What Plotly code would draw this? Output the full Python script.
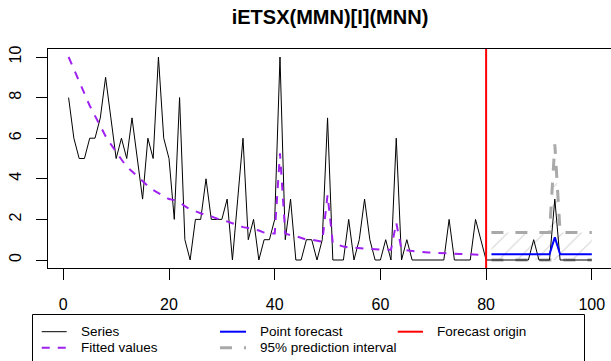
import plotly.graph_objects as go

# ---------------- data ----------------
title_text = "iETSX(MMN)[I](MNN)"

t_in = list(range(1, 81))
actuals = [8, 6, 5, 5, 6, 6, 7, 9, 7, 5,
           6, 5, 7, 5, 3, 6, 5, 10, 6, 5,
           2, 8, 1, 0, 2, 2, 4, 2, 2, 2,
           3, 0, 3, 6, 1, 2, 0, 1, 1, 2,
           10, 1, 3, 0, 0, 1, 1, 0, 1, 7,
           0, 0, 0, 2, 0, 1, 3, 1, 0, 0,
           1, 0, 6, 0, 1, 0, 0, 0, 0, 0,
           0, 0, 2, 0, 0, 0, 0, 2, 1, 0]

fitted = [10.0, 9.4, 8.8, 8.2, 7.6, 7.1, 6.6, 6.1, 5.7, 5.3,
          4.95, 4.6, 4.35, 4.1, 3.85, 3.65, 3.45, 3.28, 3.15, 3.0,
          2.95, 2.85, 2.65, 2.5, 2.4, 2.3, 2.2, 2.15, 2.05, 1.95,
          1.9, 1.8, 1.7, 1.62, 1.58, 1.52, 1.45, 1.35, 1.3, 1.3,
          5.25, 1.3, 1.22, 1.18, 1.1, 1.0, 1.0, 0.95, 0.9, 3.2,
          0.82, 0.75, 0.66, 0.62, 0.6, 0.57, 0.55, 0.53, 0.51, 0.49,
          0.5, 0.5, 1.84, 0.5, 0.47, 0.43, 0.41, 0.39, 0.37, 0.36,
          0.34, 0.33, 0.32, 0.31, 0.3, 0.29, 0.28, 0.27, 0.26, 0.25]

t_out = list(range(81, 101))
holdout = [0, 0, 0, 0, 0, 0, 0, 0, 1, 0,
           0, 0, 3, 0, 0, 0, 0, 0, 0, 0]
forecast = [0.28, 0.28, 0.28, 0.28, 0.28, 0.28, 0.28, 0.28, 0.28, 0.28,
            0.28, 0.28, 1.12, 0.28, 0.28, 0.28, 0.28, 0.28, 0.28, 0.28]
upper = [1.36, 1.36, 1.36, 1.36, 1.36, 1.36, 1.36, 1.36, 1.36, 1.36,
         1.36, 1.36, 5.7, 1.36, 1.36, 1.36, 1.36, 1.36, 1.36, 1.36]
lower = [0.0] * 20

forecast_origin = 80

x_ticks = [0, 20, 40, 60, 80, 100]
y_ticks = [0, 2, 4, 6, 8, 10]

legend_labels = ["Series", "Fitted values", "Point forecast",
                 "95% prediction interval", "Forecast origin"]

# ---------------- styles ----------------
FONT = "Liberation Sans, Arial, Helvetica, sans-serif"
PURPLE = "#A020F0"
GREY = "#A9A9A9"
W, H = 611, 361
L, R, T, B = 48, 611, 49, 268


def px(x):
    return (x - L) / (R - L)


def py(y):
    return (B - y) / (B - T)


fig = go.Figure()

# hatched prediction-interval area
fig.add_trace(go.Scatter(
    x=t_out + t_out[::-1], y=upper + lower[::-1],
    mode="lines", fill="toself", line=dict(width=0, color="rgba(0,0,0,0)"),
    fillcolor="rgba(0,0,0,0)",
    fillpattern=dict(shape="/", fgcolor="#D3D3D3", bgcolor="rgba(0,0,0,0)",
                     size=13, solidity=0.08, fillmode="replace"),
    hoverinfo="skip", showlegend=False))

# interval bounds
for bound in (upper, lower):
    fig.add_trace(go.Scatter(x=t_out, y=bound, mode="lines",
                             line=dict(color=GREY, width=3, dash="12px,12px"),
                             showlegend=False, hoverinfo="skip"))

# series (in-sample + holdout)
fig.add_trace(go.Scatter(x=t_in + t_out, y=actuals + holdout, mode="lines",
                         line=dict(color="black", width=1),
                         showlegend=False, hoverinfo="skip"))

# fitted
fig.add_trace(go.Scatter(x=t_in, y=fitted, mode="lines",
                         line=dict(color=PURPLE, width=2, dash="8px,8px"),
                         showlegend=False, hoverinfo="skip"))

# point forecast
fig.add_trace(go.Scatter(x=t_out, y=forecast, mode="lines",
                         line=dict(color="blue", width=2),
                         showlegend=False, hoverinfo="skip"))

shapes = [
    dict(type="line", xref="x", yref="paper", x0=forecast_origin, x1=forecast_origin,
         y0=0, y1=1, line=dict(color="red", width=2), layer="above"),
    # legend box
    dict(type="rect", xref="paper", yref="paper", x0=px(32.5), x1=px(584.5),
         y0=py(372), y1=py(314.5), line=dict(color="black", width=1),
         fillcolor="rgba(0,0,0,0)"),
]

annotations = []
row_y = [331.7, 347.7]
col_sample = [(41.7, 66.7), (220, 246), (397.7, 423)]
col_text = [79, 257.7, 435]
legend_items = [
    (0, 0, dict(color="black", width=1)),
    (0, 1, dict(color=PURPLE, width=2, dash="8px,8px")),
    (1, 0, dict(color="blue", width=2)),
    (1, 1, dict(color=GREY, width=3, dash="12px,12px")),
    (2, 0, dict(color="red", width=2)),
]
for (c, r, ln), lab in zip(legend_items, legend_labels):
    yy = py(row_y[r])
    shapes.append(dict(type="line", xref="paper", yref="paper",
                       x0=px(col_sample[c][0]), x1=px(col_sample[c][1]),
                       y0=yy, y1=yy, line=ln))
    annotations.append(dict(xref="paper", yref="paper", x=px(col_text[c]), y=yy,
                            text=lab, showarrow=False, xanchor="left",
                            yanchor="middle",
                            font=dict(family=FONT, size=13.5, color="black")))

axis_common = dict(showline=True, linecolor="black", linewidth=1,
                   ticks="outside", ticklen=11, tickcolor="black", tickwidth=1,
                   showgrid=False, zeroline=False,
                   tickfont=dict(family=FONT, size=16, color="black"))

fig.update_layout(
    width=W, height=H,
    margin=dict(l=L, r=W - R, t=T, b=H - B, pad=0),
    paper_bgcolor="white", plot_bgcolor="white",
    showlegend=False,
    title=dict(text="<b>" + title_text + "</b>", x=px(330), xref="paper",
               xanchor="center", y=1 - 17 / H, yanchor="middle",
               font=dict(family=FONT, size=20, color="black")),
    xaxis=dict(range=[-2.895, 103.63], tickvals=x_ticks, mirror=True,
               ticklabelstandoff=11, **axis_common),
    yaxis=dict(range=[-0.394, 10.394], tickvals=y_ticks, tickangle=-90,
               ticklabelstandoff=9, **axis_common),
    shapes=shapes, annotations=annotations,
)

fig.write_html("out.html",
               config={"displayModeBar": False, "staticPlot": True},
               post_script="document.body.style.margin='0';"
                           "document.body.style.overflow='hidden';")
